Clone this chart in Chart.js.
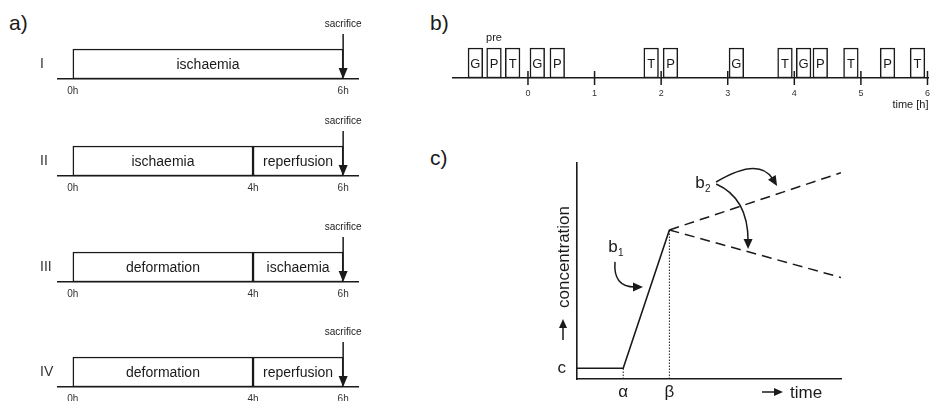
<!DOCTYPE html>
<html>
<head>
<meta charset="utf-8">
<script src="https://cdn.jsdelivr.net/npm/chart.js@4.4.1/dist/chart.umd.min.js"></script>
<style>
  html, body { margin:0; padding:0; background:#fff; }
  body { width:940px; height:401px; position:relative; overflow:hidden; font-family:"Liberation Sans", Arial, sans-serif; color:#1a1a1a; }
  .box { position:absolute; }
  .tag { position:absolute; font-size:21px; line-height:1; }
</style>
</head>
<body>
  <div class="tag" style="left:9px;top:12px">a)</div>
  <div class="tag" style="left:430px;top:12px">b)</div>
  <div class="tag" style="left:430px;top:147px">c)</div>

  <div class="box" style="left:0;top:17px;width:380px;height:87px"><canvas id="proto0"></canvas></div>
  <div class="box" style="left:0;top:114px;width:380px;height:87px"><canvas id="proto1"></canvas></div>
  <div class="box" style="left:0;top:220px;width:380px;height:87px"><canvas id="proto2"></canvas></div>
  <div class="box" style="left:0;top:325px;width:380px;height:87px"><canvas id="proto3"></canvas></div>
  <div class="box" style="left:420px;top:0;width:520px;height:115px"><canvas id="sampling"></canvas></div>
  <div class="box" style="left:520px;top:140px;width:420px;height:261px"><canvas id="model"></canvas></div>

<script>
// a) experimental protocols (hours)
const protoNames = ['I', 'II', 'III', 'IV'];
const protoStart = [[0], [0, 4], [0, 4], [0, 4]];
const protoEnd = [[6], [4, 6], [4, 6], [4, 6]];
const protoPhases = [['ischaemia'], ['ischaemia', 'reperfusion'], ['deformation', 'ischaemia'], ['deformation', 'reperfusion']];
const protoTicks = [[0, 6], [0, 4, 6], [0, 4, 6], [0, 4, 6]];
const sacrificeAt = 6;

// b) sampling moments (hours)
const sampleType  = ['G', 'P', 'T', 'G', 'P', 'T', 'P', 'G', 'T', 'G', 'P', 'T', 'P', 'T'];
const sampleStart = [-0.90, -0.62, -0.34, 0.03, 0.33, 1.74, 2.03, 3.02, 3.75, 4.03, 4.28, 4.74, 5.29, 5.74];
const sampleEnd   = [-0.68, -0.40, -0.12, 0.25, 0.55, 1.96, 2.25, 3.24, 3.97, 4.25, 4.50, 4.96, 5.51, 5.96];
const hourTicks = [0, 1, 2, 3, 4, 5, 6];

// c) concentration model (arbitrary units)
const riseX = [0, 1.75, 3.5];
const riseY = [0.5, 0.5, 6.9];
const afterX = [3.5, 10];
const upY = [6.9, 9.55];
const downY = [6.9, 4.7];
const markX = [1.75, 3.5];
const markLabels = ['α', 'β'];
const baseLevel = 0.5;

const ink = '#1a1a1a';
const fam = '"Liberation Sans", Arial, sans-serif';

function arrowHead(ctx, x, y, ang, len, half) {
  const c = Math.cos(ang), s = Math.sin(ang);
  ctx.beginPath();
  ctx.moveTo(x, y);
  ctx.lineTo(x - len * c + half * s, y - len * s - half * c);
  ctx.lineTo(x - len * c - half * s, y - len * s + half * c);
  ctx.closePath();
  ctx.fill();
}

// text inside the floating bars
const barLabels = {
  id: 'barLabels',
  afterDatasetsDraw(chart, args, opts) {
    const ctx = chart.ctx;
    ctx.save();
    ctx.fillStyle = ink;
    ctx.font = opts.size + 'px ' + fam;
    ctx.textAlign = 'center';
    ctx.textBaseline = 'middle';
    chart.getDatasetMeta(0).data.forEach((bar, i) => {
      const p = bar.getProps(['x', 'y', 'base'], true);
      ctx.fillText(opts.texts[i], (p.x + p.base) / 2, p.y + 1);
    });
    ctx.restore();
  }
};

const sacrificeMark = {
  id: 'sacrificeMark',
  afterDraw(chart) {
    const { ctx, chartArea, scales } = chart;
    const x = scales.x.getPixelForValue(sacrificeAt);
    ctx.save();
    ctx.strokeStyle = ink; ctx.fillStyle = ink; ctx.lineWidth = 1.5;
    ctx.beginPath();
    ctx.moveTo(x, chartArea.top - 15);
    ctx.lineTo(x, chartArea.bottom - 8);
    ctx.stroke();
    arrowHead(ctx, x, chartArea.bottom, Math.PI / 2, 11, 4.5);
    ctx.font = '10px ' + fam;
    ctx.textAlign = 'center'; ctx.textBaseline = 'middle';
    ctx.fillText('sacrifice', x, chartArea.top - 25);
    ctx.restore();
  }
};

protoNames.forEach((name, r) => {
  new Chart(document.getElementById('proto' + r), {
    type: 'bar',
    data: {
      labels: [name],
      datasets: [{
        data: protoStart[r].map((s, k) => ({ x: [s, protoEnd[r][k]], y: name })),
        backgroundColor: '#fff', borderColor: ink, borderWidth: 1.5, borderSkipped: false,
        barPercentage: 1, categoryPercentage: 1, clip: false
      }]
    },
    options: {
      indexAxis: 'y', responsive: true, maintainAspectRatio: false, animation: false,
      layout: { padding: { top: 32, left: 40, right: 22, bottom: 0 } },
      plugins: { legend: { display: false }, tooltip: { enabled: false }, barLabels: { texts: protoPhases[r], size: 14 } },
      scales: {
        x: {
          type: 'linear', min: -0.33, max: 6.33,
          grid: { display: false, drawTicks: false },
          border: { display: true, color: ink, width: 1.5 },
          afterBuildTicks: s => { s.ticks = protoTicks[r].map(v => ({ value: v })); },
          afterFit: s => { s.height = 25; },
          ticks: { callback: v => v + 'h', padding: 6, color: '#333', font: { size: 10, family: fam }, maxRotation: 0, autoSkip: false }
        },
        y: {
          grid: { display: false, drawTicks: false },
          border: { display: false },
          afterFit: s => { s.width = 18; },
          ticks: { crossAlign: 'far', padding: 0, color: '#333', font: { size: 14, family: fam } }
        }
      }
    },
    plugins: [barLabels, sacrificeMark]
  });
});

// b) hour ticks crossing the time line, plus "pre" and axis title
const hourMarks = {
  id: 'hourMarks',
  afterDraw(chart) {
    const { ctx, chartArea, scales } = chart;
    ctx.save();
    ctx.strokeStyle = ink; ctx.fillStyle = ink; ctx.lineWidth = 1.5;
    hourTicks.forEach(h => {
      const x = scales.x.getPixelForValue(h);
      ctx.beginPath();
      ctx.moveTo(x, chartArea.bottom - 7);
      ctx.lineTo(x, chartArea.bottom + 7);
      ctx.stroke();
    });
    ctx.font = '11px ' + fam;
    ctx.textBaseline = 'middle';
    ctx.textAlign = 'center';
    ctx.fillText('pre', scales.x.getPixelForValue((sampleStart[1] + sampleEnd[1]) / 2), chartArea.top - 10);
    ctx.textAlign = 'right';
    ctx.fillText('time [h]', chartArea.right, chartArea.bottom + 27);
    ctx.restore();
  }
};

new Chart(document.getElementById('sampling'), {
  type: 'bar',
  data: {
    labels: ['samples'],
    datasets: [{
      data: sampleStart.map((s, i) => ({ x: [s, sampleEnd[i]], y: 'samples' })),
      backgroundColor: '#fff', borderColor: ink, borderWidth: 1.5, borderSkipped: false,
      barPercentage: 1, categoryPercentage: 1, clip: false
    }]
  },
  options: {
    indexAxis: 'y', responsive: true, maintainAspectRatio: false, animation: false,
    layout: { padding: { top: 48, left: 33, right: 5, bottom: 0 } },
    plugins: { legend: { display: false }, tooltip: { enabled: false }, barLabels: { texts: sampleType, size: 13 } },
    scales: {
      x: {
        type: 'linear', min: -1.126, max: 6.015,
        grid: { display: false, drawTicks: false },
        border: { display: true, color: ink, width: 1.5 },
        afterBuildTicks: s => { s.ticks = hourTicks.map(v => ({ value: v })); },
        afterFit: s => { s.height = 37; },
        ticks: { padding: 10, color: '#333', font: { size: 9, family: fam }, maxRotation: 0, autoSkip: false }
      },
      y: { display: false }
    }
  },
  plugins: [barLabels, hourMarks]
});

// c) annotations: curved arrows, b1/b2, axis titles
const modelNotes = {
  id: 'modelNotes',
  afterDraw(chart) {
    const { ctx, chartArea, scales: { x, y } } = chart;
    const P = (a, b) => [x.getPixelForValue(a), y.getPixelForValue(b)];
    ctx.save();
    ctx.strokeStyle = ink; ctx.fillStyle = ink; ctx.lineWidth = 1.5;

    const curves = [
      [[1.44, 5.42], [1.36, 4.26], [2.50, 4.26]],
      [[5.27, 9.12], [6.89, 10.3], [7.58, 8.94]],
      [[5.27, 9.03], [6.48, 8.38], [6.48, 6.02]]
    ];
    curves.forEach(c => {
      const [p0, p1, p2] = c.map(v => P(v[0], v[1]));
      const ang = Math.atan2(p2[1] - p1[1], p2[0] - p1[0]);
      const sx = p2[0] - 8 * Math.cos(ang), sy = p2[1] - 8 * Math.sin(ang);
      ctx.beginPath();
      ctx.moveTo(p0[0], p0[1]);
      ctx.quadraticCurveTo(p1[0], p1[1], sx, sy);
      ctx.stroke();
      arrowHead(ctx, p2[0], p2[1], ang, 10, 4.5);
    });

    ctx.textBaseline = 'middle';
    [['1', 1.36, 6.11], ['2', 4.66, 9.07]].forEach(([sub, a, b]) => {
      const [px, py] = P(a, b);
      ctx.font = '17px ' + fam; ctx.textAlign = 'center';
      ctx.fillText('b', px, py);
      ctx.font = '10px ' + fam; ctx.textAlign = 'left';
      ctx.fillText(sub, px + 5, py + 6);
    });

    // time title with arrow
    const ty = chartArea.bottom + 13;
    ctx.beginPath();
    ctx.moveTo(chartArea.left + 185, ty); ctx.lineTo(chartArea.left + 198, ty); ctx.stroke();
    arrowHead(ctx, chartArea.left + 206, ty, 0, 9, 4);
    ctx.font = '17px ' + fam; ctx.textAlign = 'left';
    ctx.fillText('time', chartArea.left + 213, ty + 1);

    // concentration title with arrow
    const tx = chartArea.left - 14;
    ctx.beginPath();
    ctx.moveTo(tx, chartArea.bottom - 39); ctx.lineTo(tx, chartArea.bottom - 52); ctx.stroke();
    arrowHead(ctx, tx, chartArea.bottom - 60, -Math.PI / 2, 9, 4);
    ctx.translate(tx, chartArea.bottom - 122);
    ctx.rotate(-Math.PI / 2);
    ctx.textAlign = 'center';
    ctx.fillText('concentration', 0, 1);
    ctx.restore();
  }
};

const pts = (xs, ys) => xs.map((v, i) => ({ x: v, y: ys[i] }));

new Chart(document.getElementById('model'), {
  type: 'scatter',
  data: {
    datasets: [
      { data: pts(riseX, riseY), showLine: true, borderColor: ink, borderWidth: 1.6, pointRadius: 0 },
      { data: pts(afterX, upY), showLine: true, borderColor: ink, borderWidth: 1.5, borderDash: [10, 6], pointRadius: 0 },
      { data: pts(afterX, downY), showLine: true, borderColor: ink, borderWidth: 1.5, borderDash: [10, 6], pointRadius: 0 },
      { data: pts([markX[0], markX[0]], [0, riseY[1]]), showLine: true, borderColor: ink, borderWidth: 1, borderDash: [1.5, 1.5], pointRadius: 0 },
      { data: pts([markX[1], markX[1]], [0, riseY[2]]), showLine: true, borderColor: ink, borderWidth: 1, borderDash: [1.5, 1.5], pointRadius: 0 }
    ]
  },
  options: {
    responsive: true, maintainAspectRatio: false, animation: false,
    layout: { padding: { top: 23, left: 0, right: 99, bottom: 0 } },
    plugins: { legend: { display: false }, tooltip: { enabled: false } },
    scales: {
      x: {
        type: 'linear', min: 0, max: 10,
        grid: { display: false, drawTicks: false },
        border: { display: true, color: ink, width: 1.6 },
        afterBuildTicks: s => { s.ticks = markX.map(v => ({ value: v })); },
        afterFit: s => { s.height = 22; },
        ticks: { callback: (v, i) => markLabels[i], padding: 3, color: ink, font: { size: 17, family: fam }, maxRotation: 0, autoSkip: false }
      },
      y: {
        type: 'linear', min: 0, max: 10,
        grid: { display: false, drawTicks: false },
        border: { display: true, color: ink, width: 1.6 },
        afterBuildTicks: s => { s.ticks = [{ value: baseLevel }]; },
        afterFit: s => { s.width = 57; },
        ticks: { callback: () => 'c', padding: 11, color: ink, font: { size: 17, family: fam } }
      }
    }
  },
  plugins: [modelNotes]
});
</script>
</body>
</html>
